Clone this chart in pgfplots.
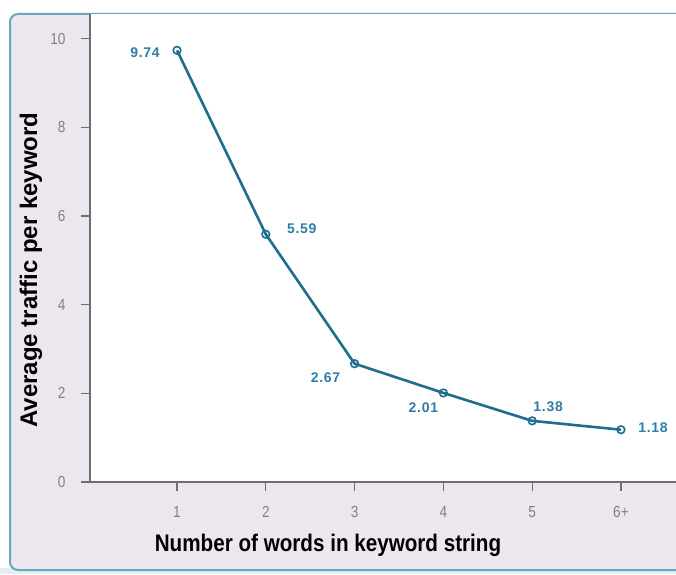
\documentclass[border=0pt]{standalone}
\usepackage{pgfplots}
\pgfplotsset{compat=1.18}
\usepackage{fontspec}
\setmainfont{Liberation Sans}
\newfontfamily\xlabfont[FakeStretch=0.86]{Liberation Sans}
\newfontfamily\ylabfont[FakeStretch=1.0]{Liberation Sans}
\newfontfamily\tickfont[FakeStretch=0.85]{Liberation Sans}
\newfontfamily\labfont[LetterSpace=5]{Liberation Sans}
\definecolor{bgcol}{HTML}{ECE7EE}
\definecolor{bordercol}{HTML}{6AA6BC}
\definecolor{lightblue}{HTML}{E3EEF4}
\definecolor{axisgray}{HTML}{6E6E70}
\definecolor{tickgray}{HTML}{808084}
\definecolor{linecol}{HTML}{1E6E8E}
\definecolor{labcol}{HTML}{2F7DA8}
\begin{document}
\begin{tikzpicture}[x=1pt,y=1pt]
\useasboundingbox (0,0) rectangle (676,574);
\fill[white] (0,0) rectangle (676,574);
\begin{scope}
\clip (0,0) rectangle (676,574);
\fill[lightblue] (0,0) rectangle (676,6);
\draw[line width=2, draw=bordercol, fill=bgcol, rounded corners=8] (10,4) rectangle (720,560);
\end{scope}
\begin{axis}[
  at={(90pt,92pt)}, anchor=south west,
  scale only axis, width=586pt, height=468pt,
  xmin=0.02, xmax=6.62, ymin=0, ymax=10.56,
  axis x line=bottom, axis y line=left,
  axis line style={-, draw=axisgray, line width=1.5pt},
  axis background/.style={fill=white},
  xtick={1,2,3,4,5,6}, xticklabels={1,2,3,4,5,6+},
  ytick={0,2,4,6,8,10},
  tick align=outside, major tick length=9pt,
  tick style={draw=axisgray, line width=1.3pt},
  ticklabel style={font=\tickfont\fontsize{16}{16}\selectfont, text=tickgray},
  /pgf/number format/assume math mode=true,
  xticklabel style={yshift=-12pt},
  yticklabel style={xshift=-12pt},
  clip=false,
]
\addplot[linecol, line width=2.6pt, mark=o, mark size=3.8pt, mark options={fill=white, line width=1.6pt}]
  coordinates {(1,9.74) (2,5.59) (3,2.67) (4,2.01) (5,1.38) (6,1.18)};
\begin{scope}[every node/.style={font=\labfont\bfseries\fontsize{14}{14}\selectfont, text=labcol}]
\node at (axis cs:1,9.74) [xshift=-32pt,yshift=-2pt] {9.74};
\node at (axis cs:2,5.59) [xshift=36pt,yshift=6pt] {5.59};
\node at (axis cs:3,2.67) [xshift=-29pt,yshift=-14pt] {2.67};
\node at (axis cs:4,2.01) [xshift=-20pt,yshift=-15pt] {2.01};
\node at (axis cs:5,1.38) [xshift=16pt,yshift=14pt] {1.38};
\node at (axis cs:6,1.18) [xshift=32pt,yshift=2pt] {1.18};
\end{scope}
\end{axis}
\node[font=\xlabfont\bfseries\fontsize{24}{24}\selectfont] at (328,29) {Number of words in keyword string};
\node[font=\ylabfont\bfseries\fontsize{24}{24}\selectfont, rotate=90] at (31,304) {Average traffic per keyword};
\end{tikzpicture}
\end{document}
